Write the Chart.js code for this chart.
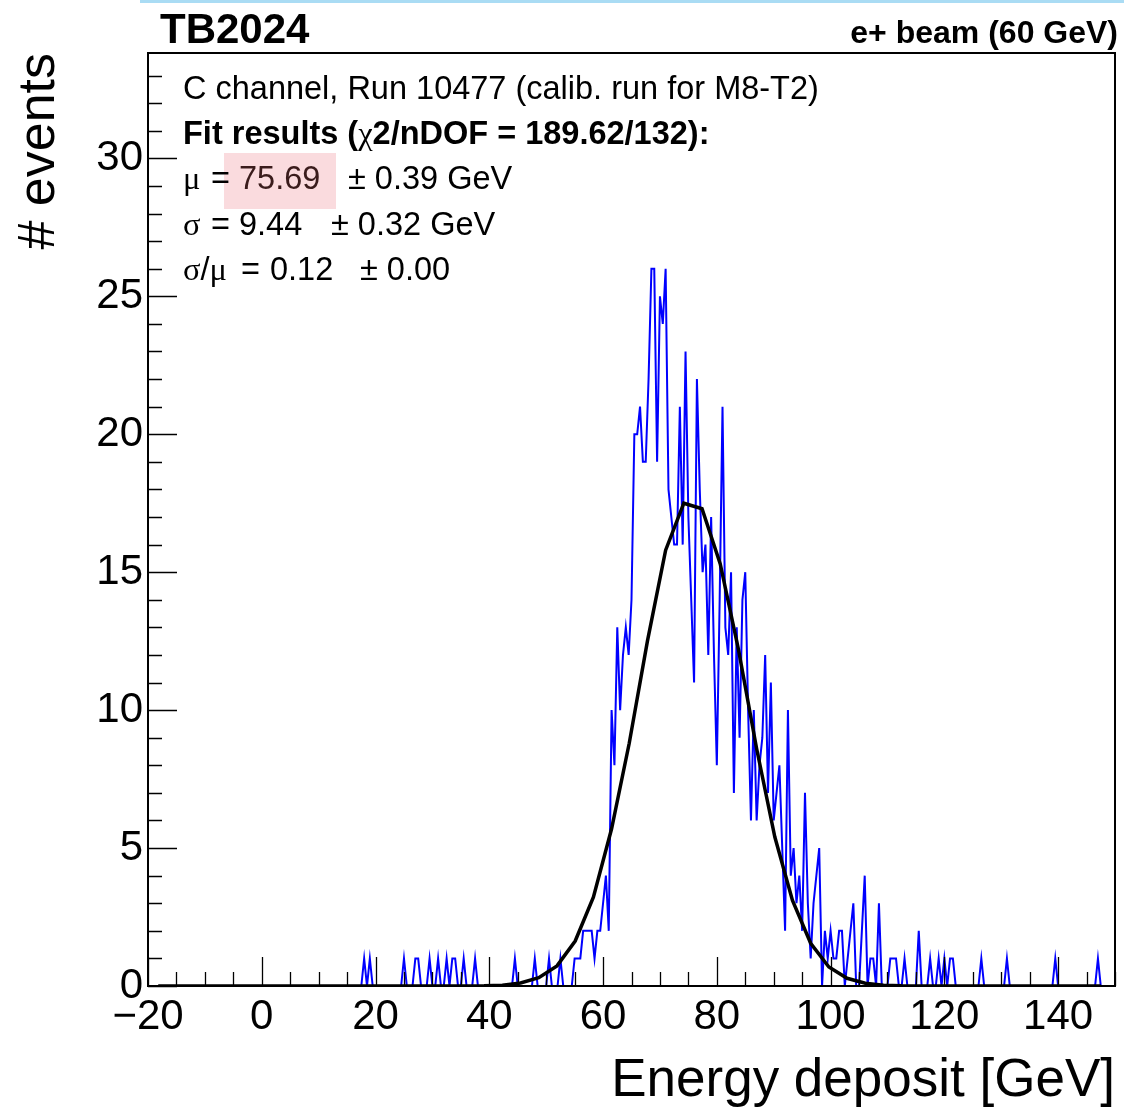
<!DOCTYPE html>
<html><head><meta charset="utf-8">
<script src="https://cdn.jsdelivr.net/npm/chart.js@4.4.1/dist/chart.umd.min.js"></script>
<style>
html,body{margin:0;padding:0;background:#fff;}
#wrap{position:relative;width:1124px;height:1109px;overflow:hidden;}
#topbar{position:absolute;left:140px;top:0;width:984px;height:3px;background:#aadcf4;}
canvas{position:absolute;left:0;top:0;}
</style></head><body>
<div id="wrap"><canvas id="c" width="1124" height="1109"></canvas><div id="topbar"></div></div>
<script>
// ---- data ----
const binWidth = 0.5;          // GeV
const firstBinCenter = 15.0;   // GeV
const counts = [
  0,0,0,0,0,0,1,0,1,0,        // 15.0 - 19.5
  0,0,0,0,0,0,0,0,0,0,        // 20.0 - 24.5
  1,0,0,0,1,1,0,0,0,1,        // 25.0 - 29.5
  0,0,1,0,0,1,0,1,1,0,        // 30.0 - 34.5
  0,1,0,0,0,1,0,0,0,0,        // 35.0 - 39.5
  0,0,0,0,0,0,0,0,0,1,        // 40.0 - 44.5
  0,0,0,0,0,0,1,0,0,0,        // 45.0 - 49.5
  0,1,0,0,0,1,0,0,0,0,        // 50.0 - 54.5
  1,1,1,2,2,2,2,1,2,2,        // 55.0 - 59.5
  3,4,2,10,8,13,10,12,13,12,  // 60.0 - 64.5
  14,20,20,21,19,19,22,26,26,19, // 65.0 - 69.5
  25,24,26,18,17,16,16,21,16,23, // 70.0 - 74.5
  17,14,11,22,18,15,16,12,17,12, // 75.0 - 79.5
  8,14,21,13,12,15,7,13,9,14,    // 80.0 - 84.5
  15,10,6,10,6,8,9,12,7,11,      // 85.0 - 89.5
  6,7,8,5,2,10,4,5,3,4,          // 90.0 - 94.5
  2,7,3,1,3,4,5,0,2,1,           // 95.0 - 99.5
  2,1,1,2,2,0,1,2,3,0,           // 100.0 - 104.5
  0,2,4,0,1,1,0,3,0,0,           // 105.0 - 109.5
  0,1,1,1,0,0,1,0,0,0,           // 110.0 - 114.5
  0,2,0,0,0,1,0,0,1,0,           // 115.0 - 119.5
  1,0,1,1,0,0,0,0,0,0,           // 120.0 - 124.5
  0,0,0,1,0,0,0,0,0,0,           // 125.0 - 129.5
  0,0,1,0,0,0,0,0,0,0,           // 130.0 - 134.5
  0,0,0,0,0,0,0,0,0,1,           // 135.0 - 139.5
  0,0,0,0,0,0,0,0,0,0,           // 140.0 - 144.5
  0,0,0,0,1,0,0                  // 145.0 - 148.0
];
// Gaussian fit curve vertices as drawn (energy, events)
const fitEnergy = [-18.2, 39.1, 42.3, 45.5, 48.7, 51.9, 55.1, 58.3, 61.5, 64.6, 67.8, 71.0, 74.2, 77.4, 80.6, 83.8, 87.0, 90.2, 93.3, 96.5, 99.7, 102.9, 106.1, 109.3, 112.5, 147.5];
const fitValue  = [0, 0.01, 0.03, 0.11, 0.30, 0.73, 1.63, 3.22, 5.70, 8.80, 12.5, 15.8, 17.5, 17.3, 15.3, 12.2, 8.6, 5.4, 3.1, 1.55, 0.69, 0.28, 0.10, 0.03, 0.01, 0];
const xTickValues = [-20, 0, 20, 40, 60, 80, 100, 120, 140];
const yTickValues = [0, 5, 10, 15, 20, 25, 30];
const xRange = [-20, 150];
const yRange = [0, 33.82];
const xTitle = 'Energy deposit [GeV]';
const yTitle = '# events';

const SANS = '"Liberation Sans", Arial, Helvetica, sans-serif';
const SERIF = '"Liberation Serif", "DejaVu Serif", serif';

const histPoints = counts.map((c, i) => ({x: firstBinCenter + i * binWidth, y: c}));
const fitPoints = fitEnergy.map((e, i) => ({x: e, y: fitValue[i]}));

const decor = {
  id: 'decor',
  afterDatasetsDraw(chart) {
    const {ctx, chartArea: a, scales: {x, y}} = chart;
    ctx.save();
    ctx.strokeStyle = '#000';
    ctx.lineWidth = 1.3;
    ctx.beginPath();
    for (let v = xRange[0]; v <= xRange[1]; v += 5) {
      const px = Math.round(x.getPixelForValue(v)) + 0.5;
      const len = (v % 20 === 0) ? 29 : 14;
      ctx.moveTo(px, a.bottom); ctx.lineTo(px, a.bottom - len);
    }
    for (let v = 0; v <= Math.floor(yRange[1]); v += 1) {
      const py = Math.round(y.getPixelForValue(v)) + 0.5;
      const len = (v % 5 === 0) ? 29 : 14;
      ctx.moveTo(a.left, py); ctx.lineTo(a.left + len, py);
    }
    ctx.stroke();
    ctx.lineWidth = 2;
    ctx.strokeRect(a.left, a.top, a.right - a.left, a.bottom - a.top);
    ctx.restore();
  },
  afterDraw(chart) {
    const ctx = chart.ctx;
    ctx.save();
    ctx.textBaseline = 'alphabetic';
    ctx.fillStyle = '#000';
    // header
    ctx.font = 'bold 42px ' + SANS;
    ctx.textAlign = 'left';
    ctx.fillText('TB2024', 160, 43);
    ctx.font = 'bold 32px ' + SANS;
    ctx.textAlign = 'right';
    ctx.fillText('e+ beam (60 GeV)', 1118, 43);
    ctx.textAlign = 'left';
    // in-plot text
    const F = '32.5px ' + SANS, FB = 'bold 32.5px ' + SANS, FG = '32.5px ' + SERIF;
    const run = (x, yb, parts) => {
      for (const p of parts) {
        ctx.font = p[1]; ctx.fillStyle = p[2] || '#000';
        ctx.fillText(p[0], x, yb);
        x += ctx.measureText(p[0]).width;
      }
    };
    run(183, 99, [['C channel, Run 10477 (calib. run for M8-T2)', F]]);
    run(183, 144, [['Fit results (', FB], ['\u03C7', FG], ['2/nDOF = 189.62/132):', FB]]);
    // line 3 with highlight
    ctx.fillStyle = 'rgba(246,190,194,0.55)';
    ctx.fillRect(224, 153, 112, 56);
    run(183, 189, [['\u03BC', FG]]);
    run(211, 189, [['=', F]]);
    run(239, 189, [['75.69', F, '#3a1c1c']]);
    run(348, 189, [['\u00B1 0.39 GeV', F]]);
    run(183, 235, [['\u03C3', FG]]);
    run(211, 235, [['=', F]]);
    run(239, 235, [['9.44', F]]);
    run(331, 235, [['\u00B1 0.32 GeV', F]]);
    run(183, 280, [['\u03C3', FG], ['/', F], ['\u03BC', FG]]);
    run(241, 280, [['=', F]]);
    run(270, 280, [['0.12', F]]);
    run(360, 280, [['\u00B1 0.00', F]]);
    ctx.restore();
  }
};

new Chart(document.getElementById('c'), {
  type: 'line',
  data: {
    datasets: [
      {label: 'fit', data: fitPoints, borderColor: '#000', borderWidth: 3.5, pointRadius: 0, tension: 0, fill: false},
      {label: 'hist', data: histPoints, borderColor: '#0000ff', borderWidth: 2, pointRadius: 0, tension: 0, fill: false}
    ]
  },
  options: {
    responsive: false, animation: false, devicePixelRatio: 1,
    parsing: false,
    layout: {padding: {left: 0, right: 9, top: 53, bottom: 0}},
    plugins: {legend: {display: false}, tooltip: {enabled: false}},
    scales: {
      x: {
        type: 'linear', min: xRange[0], max: xRange[1],
        afterFit(s) { s.height = 1109 - 986; },
        afterBuildTicks(s) { s.ticks = xTickValues.map(v => ({value: v})); },
        ticks: {font: {family: SANS, size: 42}, color: '#000', padding: -2, maxRotation: 0, autoSkip: false,
                callback: v => String(v).replace('-', '\u2212')},
        grid: {display: false}, border: {display: false},
        title: {display: true, text: xTitle, align: 'end', color: '#000',
                font: {family: SANS, size: 53, lineHeight: 1}, padding: {top: 0, bottom: 1}}
      },
      y: {
        type: 'linear', min: yRange[0], max: yRange[1],
        afterFit(s) { s.width = 148; },
        afterBuildTicks(s) { s.ticks = yTickValues.map(v => ({value: v})); },
        ticks: {font: {family: SANS, size: 42}, color: '#000', padding: -3, callback: v => String(v)},
        grid: {display: false}, border: {display: false},
        title: {display: true, text: yTitle, align: 'end', color: '#000',
                font: {family: SANS, size: 52, lineHeight: 1}, padding: {top: 14, bottom: 0}}
      }
    }
  },
  plugins: [decor]
});
</script>
</body></html>
